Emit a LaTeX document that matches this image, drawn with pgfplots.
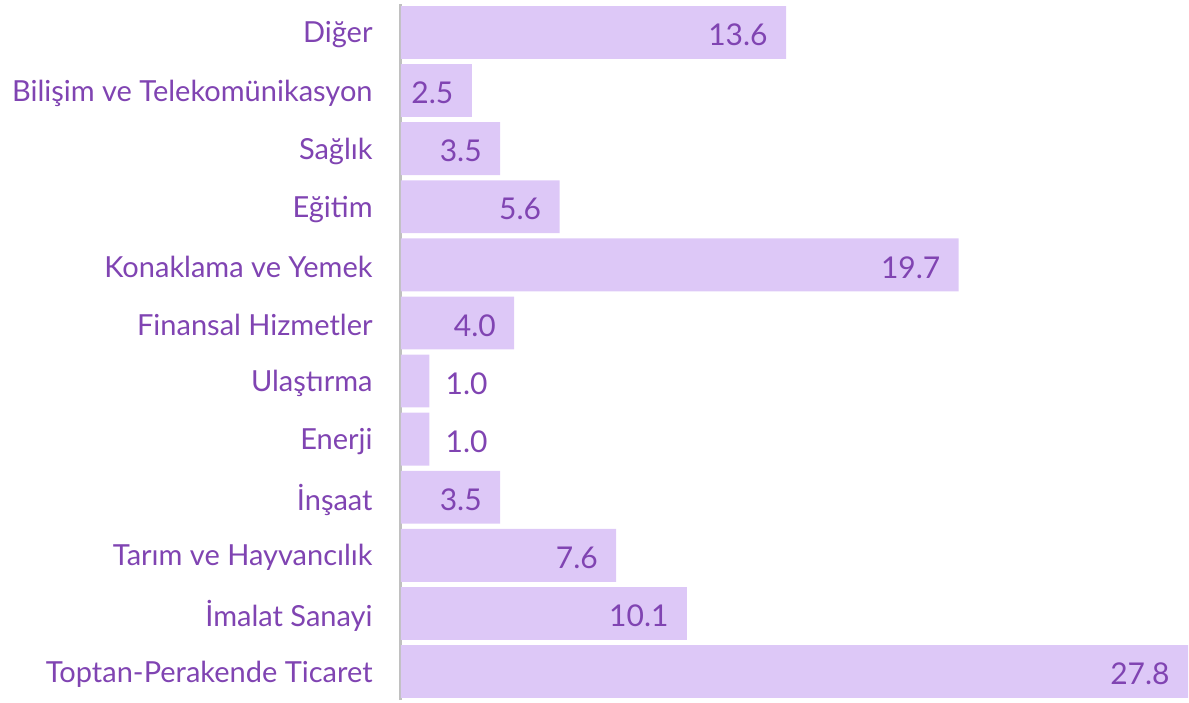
\documentclass[border=0pt]{standalone}
\usepackage{fontspec}
\setmainfont{Lato}
\usepackage{pgfplots}
\pgfplotsset{compat=1.18}
\definecolor{barc}{RGB}{221,200,247}
\definecolor{txt}{RGB}{128,68,178}
\definecolor{axc}{RGB}{192,192,192}
\begin{document}
\fontsize{14.5pt}{17pt}\selectfont
\begin{tikzpicture}
\begin{axis}[
  scale only axis,
  width=393.5pt, height=348pt,
  xmin=0, xmax=27.8,
  ymin=-0.49, ymax=11.49,
  axis x line=none,
  axis y line*=left,
  y axis line style={draw=axc, line width=1.5pt, -},
  ytick={0,...,11},
  yticklabels={Toptan-Perakende Ticaret, İmalat Sanayi, Tarım ve Hayvancılık, İnşaat, Enerji, Ulaştırma, Finansal Hizmetler, Konaklama ve Yemek, Eğitim, Sağlık, Bilişim ve Telekomünikasyon, Diğer},
  major tick length=0pt,
  yticklabel style={font=\fontsize{14.5pt}{17pt}\selectfont, text=txt, inner sep=0pt, anchor=east, xshift=-14pt, yshift=-1.2pt},
  clip=false,
]
\addplot[xbar, bar width=0.91, bar shift=0pt, fill=barc, draw=none] coordinates {
 (27.8,0) (10.1,1) (7.6,2) (3.5,3) (1.0,4) (1.0,5) (4.0,6) (19.7,7) (5.6,8) (3.5,9) (2.5,10) (13.6,11)};
\addplot[draw=none, mark=none, point meta=x,
  nodes near coords={\pgfmathprintnumber[fixed,fixed zerofill,precision=1,assume math mode=true]{\pgfplotspointmeta}},
  nodes near coords style={anchor=east, inner sep=0pt, xshift=-9pt, yshift=-1.2pt, text=txt, font=\fontsize{15pt}{17pt}\selectfont}]
 coordinates {(27.8,0) (10.1,1) (7.6,2) (3.5,3) (4.0,6) (19.7,7) (5.6,8) (3.5,9) (2.5,10) (13.6,11)};
\addplot[draw=none, mark=none, point meta=x,
  nodes near coords={\pgfmathprintnumber[fixed,fixed zerofill,precision=1,assume math mode=true]{\pgfplotspointmeta}},
  nodes near coords style={anchor=west, inner sep=0pt, xshift=8pt, yshift=-1.2pt, text=txt, font=\fontsize{15pt}{17pt}\selectfont}]
 coordinates {(1.0,4) (1.0,5)};
\end{axis}
\path (current axis.south west) ++(-200.5pt,-1pt) coordinate (bl);
\path (current axis.north east) ++(0.5pt,2pt) coordinate (tr);
\path (bl) rectangle (tr);
\end{tikzpicture}
\end{document}
